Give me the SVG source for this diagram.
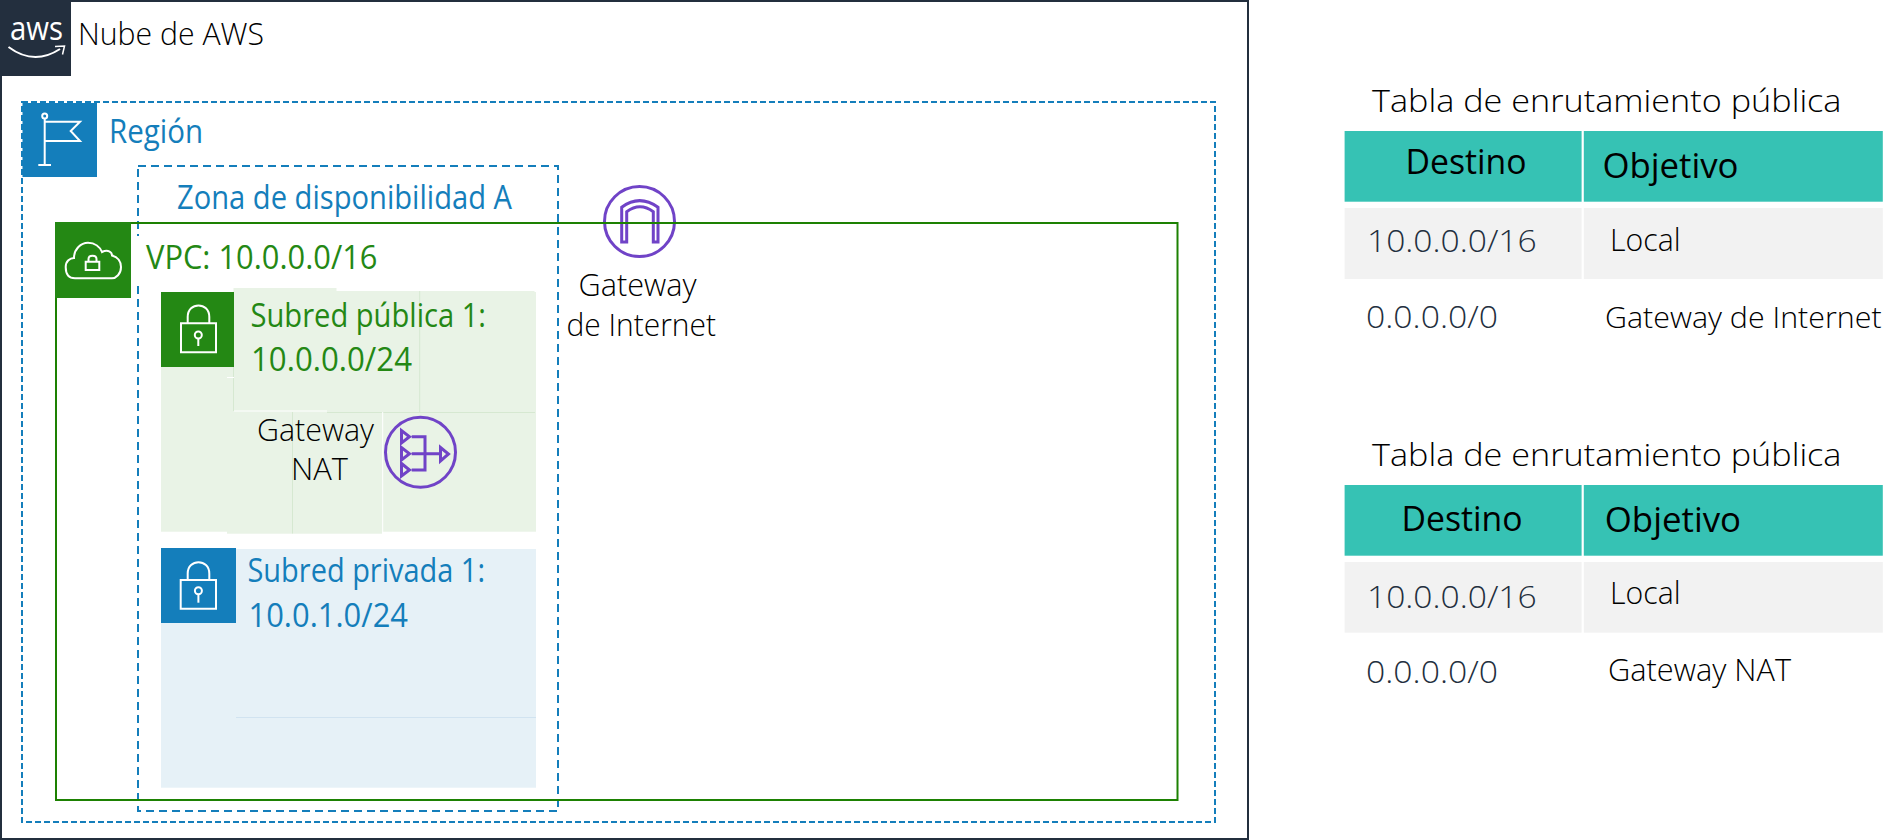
<svg xmlns="http://www.w3.org/2000/svg" width="1888" height="840" viewBox="0 0 1888 840">
<style>
text{font-family:"Open Sans","Noto Sans","Liberation Sans",sans-serif;font-weight:350;font-size:32px;fill:#000}
text.g{fill:#248814;font-weight:400}text.b{fill:#147ebb;font-weight:400}text.d{fill:#232f3e}
.g{fill:#248814}.b{fill:#147ebb}
text.h{font-weight:500;font-size:35px}
text.sm{font-size:30px}
.ic{fill:none;stroke:#fff;stroke-width:2}
.pu{fill:none;stroke:#7043c7;stroke-width:3;stroke-linejoin:miter}
.seam{fill:none;stroke:#d6e8d1;stroke-width:1}
.wseam{fill:none;stroke:#fff;stroke-width:1}
.head{fill:#36c2b4}.row{fill:#f2f2f2}
</style>
<rect width="1888" height="840" fill="#fff"/>
<g id="cloud">
<rect x="1" y="1" width="1247" height="838" fill="#fff" stroke="#232f3e" stroke-width="2"/>
<rect x="0" y="0" width="71" height="76" fill="#232f3e"/>
<text x="10" y="40" textLength="53" lengthAdjust="spacingAndGlyphs" style="fill:#fff;font-size:33px;font-weight:400">aws</text>
<path d="M8.500 47 Q34 66 60 49" fill="none" stroke="#fff" stroke-width="2"/>
<path d="M55 46.500L64.500 46 L62.500 54.500" fill="none" stroke="#fff" stroke-width="1.500"/>
<text x="78" y="45" textLength="186" lengthAdjust="spacingAndGlyphs">Nube de AWS</text>
</g>
<g id="region">
<rect x="22" y="102" width="1193" height="720" fill="none" stroke="#147ebb" stroke-width="2" stroke-dasharray="6 3"/>
<rect x="22.500" y="103" width="74.500" height="74" class="b"/>
<circle cx="44.700" cy="116" r="2.500" class="ic" stroke-width="1.500"/>
<path d="M44.700 118.500V165M38.300 165H51M45 121.700H80L70.700 131L80 141H45" class="ic"/>
<text x="109" y="143" textLength="94" lengthAdjust="spacingAndGlyphs" class="b">Región</text>
</g>
<g id="zone">
<rect x="138" y="166" width="420" height="645" fill="none" stroke="#147ebb" stroke-width="2" stroke-dasharray="8 5"/>
<text x="177" y="209" textLength="335" lengthAdjust="spacingAndGlyphs" class="b">Zona de disponibilidad A</text>
</g>
<g id="igw">
<circle cx="639.500" cy="221.500" r="35" class="pu"/>
<path d="M621.700 242V207.300Q639.500 194 658 207.300V242H653.300V211.700Q640 201.700 626.700 211.700V242Z" class="pu"/>
<text x="578.500" y="296" textLength="118" lengthAdjust="spacingAndGlyphs">Gateway</text>
<text x="566.500" y="335.500" textLength="149.500" lengthAdjust="spacingAndGlyphs">de Internet</text>
</g>
<g id="vpc">
<rect x="56" y="223" width="1121.500" height="577" fill="none" stroke="#1d8102" stroke-width="2"/>
<rect x="131" y="236" width="14" height="50" fill="#fff"/>
<rect x="55" y="222" width="76" height="76" fill="#248814"/>
<path d="M75 278.300C67 278.300 65.700 272 65.700 267C65.700 261 70 258 74 258C74 249 81 242.700 88 242.700C95 242.700 100 247 102 252C108 249 112 252 112 255.500C118 257 121 262 121 267C121 274 116 278.300 112 278.300Z" class="ic"/>
<path d="M85.700 261.700H99.300V270H85.700ZM88.500 261.700V259C88.500 254.500 96.500 254.500 96.500 259V261.700" class="ic"/>
<text x="146" y="268.700" textLength="231.500" lengthAdjust="spacingAndGlyphs" class="g">VPC: 10.0.0.0/16</text>
</g>
<g id="subnet-public">
<rect x="161" y="292" width="375" height="239.700" fill="#e9f3e6"/>
<rect x="233.500" y="291" width="301" height="121" fill="#e9f3e6"/>
<rect x="233.500" y="288" width="103" height="6" fill="#e9f3e6"/>
<rect x="227" y="412" width="155" height="121.700" fill="#e9f3e6"/>
<path d="M233.500 367V411M419.700 291V412M327 412.500H535M292.500 412V533.500" class="seam"/>
<path d="M234 411H327M227 377.500H234M382.700 412V533.500" class="wseam"/>
<rect x="161" y="292" width="73" height="75" fill="#248814"/>
<path d="M181 323.300H216V352.300H181ZM187.700 323.300V317C187.700 301.500 209.300 301.500 209.300 317V323.300" class="ic"/>
<circle cx="198.300" cy="335" r="3.500" class="ic"/>
<path d="M198.300 338.500V346" class="ic"/>
<text x="250.500" y="326.700" textLength="235.500" lengthAdjust="spacingAndGlyphs" class="g">Subred pública 1:</text>
<text x="251" y="370.700" textLength="161" lengthAdjust="spacingAndGlyphs" class="g">10.0.0.0/24</text>
</g>
<g id="nat">
<text x="257" y="441" textLength="117" lengthAdjust="spacingAndGlyphs">Gateway</text>
<text x="291" y="480" textLength="57" lengthAdjust="spacingAndGlyphs">NAT</text>
<circle cx="420.500" cy="452.300" r="35" class="pu"/>
<path d="M401.500 430.500V443L409.500 436.700ZM401.500 447.500V460L409.500 453.700ZM401.500 463.500V476L409.500 470ZM411.700 436.700H425V470H411.700M411.700 453.700H440M440.500 447.500V461L448.500 454Z" class="pu"/>
</g>
<g id="subnet-private">
<rect x="161" y="549" width="375" height="238.700" fill="#e6f1f7"/>
<path d="M236 717.500H536" fill="none" stroke="#d1e3f0" stroke-width="1"/>
<rect x="161" y="548" width="75" height="75" fill="#147ebb"/>
<path d="M180.700 580H216V608.700H180.700ZM187.700 580V573.500C187.700 558.500 209.300 558.500 209.300 573.500V580" class="ic"/>
<circle cx="198.400" cy="590.700" r="3.500" class="ic"/>
<path d="M198.400 594.200V602.700" class="ic"/>
<text x="247.500" y="582" textLength="237.500" lengthAdjust="spacingAndGlyphs" class="b">Subred privada 1:</text>
<text x="248.500" y="626.700" textLength="159.500" lengthAdjust="spacingAndGlyphs" class="b">10.0.1.0/24</text>
</g>
<g id="table-1">
<text x="1372" y="111.700" textLength="469.500" lengthAdjust="spacingAndGlyphs">Tabla de enrutamiento pública</text>
<rect x="1344.600" y="131" width="237" height="70.700" class="head"/>
<rect x="1583.800" y="131" width="299" height="70.700" class="head"/>
<rect x="1344.600" y="208" width="237" height="71" class="row"/>
<rect x="1583.800" y="208" width="299" height="71" class="row"/>
<text x="1405.500" y="174.300" textLength="121" lengthAdjust="spacingAndGlyphs" class="h">Destino</text>
<text x="1602.500" y="178" textLength="136" lengthAdjust="spacingAndGlyphs" class="h">Objetivo</text>
<text x="1367" y="252.300" textLength="169.700" lengthAdjust="spacingAndGlyphs" class="d">10.0.0.0/16</text>
<text x="1610" y="250.700" textLength="70.500" lengthAdjust="spacingAndGlyphs">Local</text>
<text x="1366" y="328" textLength="132" lengthAdjust="spacingAndGlyphs" class="d">0.0.0.0/0</text>
<text x="1605" y="327.700" textLength="276.600" lengthAdjust="spacingAndGlyphs" class="sm">Gateway de Internet</text>
</g>
<g id="table-2">
<text x="1372" y="465.700" textLength="469.500" lengthAdjust="spacingAndGlyphs">Tabla de enrutamiento pública</text>
<rect x="1344.600" y="485" width="237" height="70.700" class="head"/>
<rect x="1583.800" y="485" width="299" height="70.700" class="head"/>
<rect x="1344.600" y="562" width="237" height="70.700" class="row"/>
<rect x="1583.800" y="562" width="299" height="70.700" class="row"/>
<text x="1401.500" y="530.700" textLength="121" lengthAdjust="spacingAndGlyphs" class="h">Destino</text>
<text x="1604.800" y="531.700" textLength="136.200" lengthAdjust="spacingAndGlyphs" class="h">Objetivo</text>
<text x="1367" y="608.300" textLength="169.700" lengthAdjust="spacingAndGlyphs" class="d">10.0.0.0/16</text>
<text x="1610" y="604" textLength="70.500" lengthAdjust="spacingAndGlyphs">Local</text>
<text x="1366" y="683.300" textLength="132" lengthAdjust="spacingAndGlyphs" class="d">0.0.0.0/0</text>
<text x="1608" y="681" textLength="183" lengthAdjust="spacingAndGlyphs">Gateway NAT</text>
</g>
</svg>
